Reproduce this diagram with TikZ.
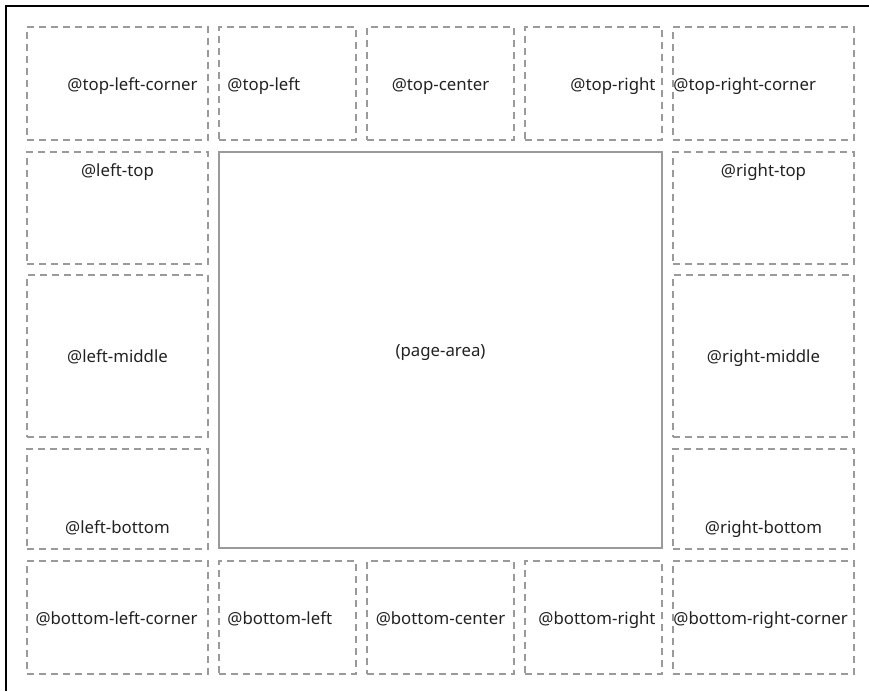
\documentclass[tikz,border=0pt]{standalone}
\usepackage{fontspec}
\setmainfont{Noto Sans}
\usetikzlibrary{positioning}
\definecolor{boxgray}{HTML}{9A9A9A}
\definecolor{inkgray}{HTML}{222222}
\tikzset{
  mbox/.style={draw=boxgray, line width=1.5pt, dash pattern=on 7pt off 5pt, inner sep=0pt},
  pagebox/.style={draw=boxgray, line width=1.6pt, inner sep=0pt},
  mlabel/.style={font=\fontsize{16.8}{20}\selectfont, text=inkgray, inner sep=0pt,
    text height=17pt, text depth=4pt},
}
% margin box from its corners: name, x1, y1, x2, y2
\newcommand{\marginbox}[6][mbox]{%
  \node[#1, minimum width={#5-#3}, minimum height={#6-#4}] (#2) at ({(#3+#5)/2},{(#4+#6)/2}) {};
}
\begin{document}
\begin{tikzpicture}[x=1pt, y=-1pt]
\useasboundingbox (0,0) rectangle (869,691);
% sheet edge
\draw[line width=2pt] (5.5,691) -- (5.5,5.5) -- (869,5.5);

% top row
\marginbox{tlc}{27}{27}{208}{140}
\marginbox{tl}{219}{27}{356}{140}
\marginbox{tc}{367}{27}{514}{140}
\marginbox{tr}{525}{27}{662}{140}
\marginbox{trc}{673}{27}{854}{140}
% left and right columns
\marginbox{lt}{27}{152}{208}{264}
\marginbox{lm}{27}{275}{208}{437}
\marginbox{lb}{27}{449}{208}{549}
\marginbox{rt}{673}{152}{854}{264}
\marginbox{rm}{673}{275}{854}{437}
\marginbox{rb}{673}{449}{854}{549}
% bottom row
\marginbox{blc}{27}{561}{208}{674}
\marginbox{bl}{219}{561}{356}{674}
\marginbox{bc}{367}{561}{514}{674}
\marginbox{br}{525}{561}{662}{674}
\marginbox{brc}{673}{561}{854}{674}
% page area
\marginbox[pagebox]{page}{219}{152}{662}{548}

\node[mlabel, left=11pt of tlc.east] (tlc-l) {@top-left-corner};
\node[mlabel, right=9pt of tl.west] (tl-l) {@top-left};
\node[mlabel] (tc-l) at (tc) {@top-center};
\node[mlabel, left=7pt of tr.east] (tr-l) {@top-right};
\node[mlabel, right=1pt of trc.west] (trc-l) {@top-right-corner};

\node[mlabel, below=8pt of lt.north] (lt-l) {@left-top};
\node[mlabel] (lm-l) at (lm) {@left-middle};
\node[mlabel, above=12pt of lb.south] (lb-l) {@left-bottom};
\node[mlabel, below=8pt of rt.north] (rt-l) {@right-top};
\node[mlabel] (rm-l) at (rm) {@right-middle};
\node[mlabel, above=12pt of rb.south] (rb-l) {@right-bottom};

\node[mlabel, left=11pt of blc.east] (blc-l) {@bottom-left-corner};
\node[mlabel, right=9pt of bl.west] (bl-l) {@bottom-left};
\node[mlabel] (bc-l) at (bc) {@bottom-center};
\node[mlabel, left=7pt of br.east] (br-l) {@bottom-right};
\node[mlabel, right=1pt of brc.west] (brc-l) {@bottom-right-corner};

\node[mlabel] (page-l) at (page) {(page-area)};
\end{tikzpicture}
\end{document}
